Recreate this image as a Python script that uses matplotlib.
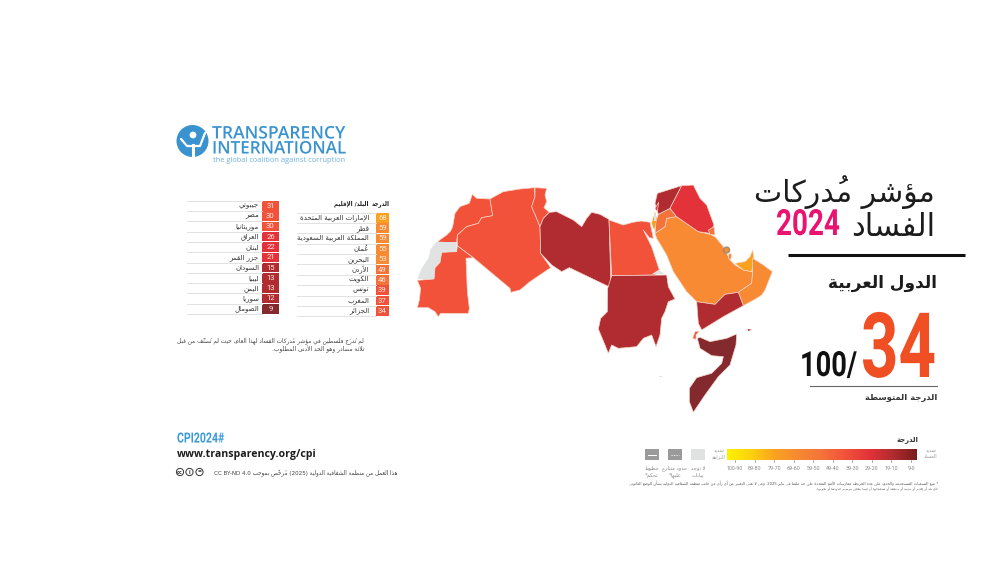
import re
import numpy as np
import matplotlib
matplotlib.use("Agg")
import matplotlib.pyplot as plt
from matplotlib.patches import Polygon, Circle, Rectangle
from matplotlib.colors import LinearSegmentedColormap
from matplotlib.patheffects import AbstractPathEffect
from matplotlib.transforms import Affine2D, Bbox

# ---------- data ----------
countries_right = ["الإمارات العربية المتحدة", "قطر", "المملكة العربية السعودية", "عُمان", "البحرين",
                   "الأردن", "الكويت", "تونس", "المغرب", "الجزائر"]
scores_right = [68, 59, 59, 55, 53, 49, 46, 39, 37, 34]
countries_left = ["جيبوتي", "مصر", "موريتانيا", "العراق", "لبنان", "جزر القمر", "السودان", "ليبيا",
                  "اليمن", "سوريا", "الصومال"]
scores_left = [31, 30, 30, 26, 22, 21, 15, 13, 13, 12, 9]
legend_ranges = ["100-90", "89-80", "79-70", "69-60", "59-50", "49-40", "39-30", "29-20", "19-10", "9-0"]
band_floor = [60, 50, 40, 30, 20, 10, 0]
band_color = ["#FAA21F", "#F78A32", "#F4733A", "#F15239", "#E3323A", "#B02C30", "#84292D"]
gradient_colors = ["#FFF200", "#FDD20E", "#FAA21F", "#F78A32", "#F4733A", "#F15239", "#E3323A", "#B02C30", "#7A1C1C"]
regional_average = 34

# outlines
regions = {
 "المغرب": [(85,198),(110,180),(122,168),(128,155),(135,115),(150,95),(178,85),(187,58),(200,70),(240,72),(248,122),(215,128),(205,145),(170,155),(142,180),(140,202),(85,202)],
 "موريتانيا": [(140,230),(95,232),(90,262),(75,278),(72,312),(22,316),(32,340),(28,375),(22,398),(55,398),(75,410),(85,425),(92,415),(175,415),(178,400),(172,350),(168,250),(190,248),(142,212)],
 "الجزائر": [(240,72),(280,50),(330,42),(373,38),(375,65),(365,95),(380,130),(390,155),(392,235),(422,278),(360,320),(330,345),(303,352),(300,340),(190,248),(142,212),(142,180),(170,155),(205,145),(215,128),(248,122)],
 "تونس": [(375,38),(410,40),(405,60),(410,80),(402,98),(418,112),(400,130),(390,155),(380,130),(365,95),(375,65)],
 "ليبيا": [(418,112),(440,110),(470,125),(490,135),(515,155),(530,130),(545,112),(570,118),(597,133),(603,338),(478,278),(455,290),(425,270),(392,235),(390,155),(400,130)],
 "مصر": [(597,135),(640,150),(668,142),(695,138),(720,142),(730,190),(718,188),(700,165),(725,215),(748,285),(735,300),(605,302)],
 "السودان": [(605,302),(770,300),(775,335),(795,372),(775,380),(765,410),(755,430),(750,480),(738,515),(725,480),(700,490),(680,515),(625,520),(605,510),(595,535),(585,510),(565,462),(572,430),(592,410),(593,340)],
 "المملكة العربية السعودية": [(735,175),(765,155),(770,130),(800,125),(865,170),(900,178),(915,185),(940,215),(960,255),(975,270),(1000,285),(1028,290),(1025,325),(985,352),(945,358),(915,388),(860,380),(830,350),(790,290),(770,240),(740,190)],
 "الأردن": [(745,118),(780,100),(800,125),(770,130),(765,155),(735,175),(738,140)],
 "سوريا": [(742,55),(815,32),(780,100),(745,118),(735,85)],
 "العراق": [(815,32),(850,30),(870,70),(890,90),(912,150),(900,175),(865,170),(800,125),(780,100)],
 "لبنان": [(735,100),(746,82),(742,110)],
 "الكويت": [(895,165),(912,155),(915,180),(900,178)],
 "قطر": [(957,235),(965,238),(962,255),(955,250)],
 "الإمارات العربية المتحدة": [(975,265),(1005,260),(1020,245),(1028,225),(1032,250),(1025,290),(1000,285)],
 "عُمان": [(1028,250),(1060,270),(1087,290),(1065,345),(1055,360),(1040,370),(1000,392),(985,352),(1025,325),(1028,290)],
 "اليمن": [(860,380),(915,388),(945,358),(985,352),(1000,392),(940,425),(875,465),(865,445)],
 "جيبوتي": [(848,490),(855,470),(868,468),(858,480),(858,493)],
 "الصومال": [(862,490),(870,487),(900,500),(950,490),(980,477),(978,510),(960,570),(925,605),(885,660),(850,712),(838,680),(838,640),(860,608),(905,595),(935,565),(940,545),(905,542),(870,520)],
}
socotra = [(1012,462),(1025,464),(1015,468)]
comoros = [(746,602),(757,602),(757,606),(746,606)]
israel = [(725,145),(735,110),(740,130),(733,165)]
west_bank = [(731,118),(738,118),(738,138),(731,138)]
no_data = {
 "sahara": [(140,202),(140,230),(95,232),(90,262),(75,278),(72,312),(22,312),(35,280),(55,250),(62,222),(80,200)],
 "halayeb": [(725,298),(745,285),(765,297)],
}

# ---------- Arabic shaping (matplotlib has no shaping or bidi) ----------
F = {'ء':(0xFE80,),'آ':(0xFE81,0xFE82),'أ':(0xFE83,0xFE84),'ؤ':(0xFE85,0xFE86),'إ':(0xFE87,0xFE88),
     'ئ':(0xFE89,0xFE8A,0xFE8B,0xFE8C),'ا':(0xFE8D,0xFE8E),'ب':(0xFE8F,0xFE90,0xFE91,0xFE92),'ة':(0xFE93,0xFE94),
     'ت':(0xFE95,0xFE96,0xFE97,0xFE98),'ث':(0xFE99,0xFE9A,0xFE9B,0xFE9C),'ج':(0xFE9D,0xFE9E,0xFE9F,0xFEA0),
     'ح':(0xFEA1,0xFEA2,0xFEA3,0xFEA4),'خ':(0xFEA5,0xFEA6,0xFEA7,0xFEA8),'د':(0xFEA9,0xFEAA),'ذ':(0xFEAB,0xFEAC),
     'ر':(0xFEAD,0xFEAE),'ز':(0xFEAF,0xFEB0),'س':(0xFEB1,0xFEB2,0xFEB3,0xFEB4),'ش':(0xFEB5,0xFEB6,0xFEB7,0xFEB8),
     'ص':(0xFEB9,0xFEBA,0xFEBB,0xFEBC),'ض':(0xFEBD,0xFEBE,0xFEBF,0xFEC0),'ط':(0xFEC1,0xFEC2,0xFEC3,0xFEC4),
     'ظ':(0xFEC5,0xFEC6,0xFEC7,0xFEC8),'ع':(0xFEC9,0xFECA,0xFECB,0xFECC),'غ':(0xFECD,0xFECE,0xFECF,0xFED0),
     'ف':(0xFED1,0xFED2,0xFED3,0xFED4),'ق':(0xFED5,0xFED6,0xFED7,0xFED8),'ك':(0xFED9,0xFEDA,0xFEDB,0xFEDC),
     'ل':(0xFEDD,0xFEDE,0xFEDF,0xFEE0),'م':(0xFEE1,0xFEE2,0xFEE3,0xFEE4),'ن':(0xFEE5,0xFEE6,0xFEE7,0xFEE8),
     'ه':(0xFEE9,0xFEEA,0xFEEB,0xFEEC),'و':(0xFEED,0xFEEE),'ى':(0xFEEF,0xFEF0),'ي':(0xFEF1,0xFEF2,0xFEF3,0xFEF4)}
LA = {'آ':(0xFEF5,0xFEF6),'أ':(0xFEF7,0xFEF8),'إ':(0xFEF9,0xFEFA),'ا':(0xFEFB,0xFEFC)}
MARK = set('\u064B\u064C\u064D\u064E\u064F\u0650\u0651\u0652')
MIRROR = {'(':')',')':'('}

def shape(s):
    cl = []
    for ch in s:
        if ch in MARK and cl:
            cl[-1][1] += ch
        else:
            cl.append([ch, ''])
    out = []
    i = 0
    prev_joins = False
    while i < len(cl):
        c, m = cl[i]
        if c not in F:
            out.append((c, m)); prev_joins = False; i += 1; continue
        if c == 'ل' and i + 1 < len(cl) and cl[i+1][0] in LA:
            g = LA[cl[i+1][0]][1 if prev_joins else 0]
            out.append((chr(g), m + cl[i+1][1])); prev_joins = False; i += 2; continue
        forms = F[c]
        next_ok = i + 1 < len(cl) and cl[i+1][0] in F
        can_next = len(forms) == 4 and next_ok
        if prev_joins and can_next: g = forms[3]
        elif prev_joins and len(forms) > 1: g = forms[1]
        elif can_next: g = forms[2]
        else: g = forms[0]
        out.append((chr(g), m))
        prev_joins = can_next
        i += 1
    return out

def ar(s):
    """logical Arabic text -> visual order presentation forms"""
    parts = re.split(r'([0-9A-Za-z](?:[0-9A-Za-z .\-/]*[0-9A-Za-z])?)', s)
    res = []
    for k, p in enumerate(parts):
        if k % 2:
            res.append(p)
        else:
            res.append(''.join(m + MIRROR.get(c, c) for c, m in reversed(shape(p))))
    return ''.join(reversed(res))

# ---------- helpers ----------
cmap = LinearSegmentedColormap.from_list("cpi", gradient_colors)
def score_color(v):
    for lo, col in zip(band_floor, band_color):
        if v >= lo:
            return col
    return band_color[-1]

fig = plt.figure(figsize=(10, 5.64), dpi=100, facecolor="white")
ax = fig.add_axes([0, 0, 1, 1])
ax.set_xlim(0, 1000); ax.set_ylim(564, 0); ax.axis("off")
AR = "DejaVu Sans"
COND = "Roboto"
renderer = fig.canvas.get_renderer()

class Squeeze(AbstractPathEffect):
    """draws a text narrower about its anchor, as the condensed face of the reference"""
    def __init__(self, sx, x0):
        super().__init__()
        self.sx, self.x0 = sx, x0
    def draw_path(self, rend, gc, tpath, affine, rgbFace=None):
        t = Affine2D().translate(-self.x0, 0).scale(self.sx, 1).translate(self.x0, 0)
        rend.draw_path(gc, tpath, affine + t, rgbFace)

def txt(x, y, s, size=6, width=None, color="#222222", ha="right", va="center", weight="normal",
        family=AR, squeeze=False, **kw):
    t = ax.text(x, y, s, fontsize=size, color=color, ha=ha, va=va, fontweight=weight, family=family, **kw)
    if width:
        bb = t.get_window_extent(renderer)
        if squeeze:
            sx = width / bb.width
            t.set_path_effects([Squeeze(sx, x)])
            x0 = x - width if ha == "right" else x
            fixed = Bbox.from_extents(x0, bb.y0, x0 + width, bb.y1)
            t.get_window_extent = lambda renderer=None, dpi=None: fixed
        else:
            t.set_fontsize(size * width / bb.width)
    return t

def to_px(pts):
    return [(410 + x / 3, 175 + y / 3) for x, y in pts]

# ---------- logo ----------
LOGO = "#3A93CF"
ax.add_patch(Circle((192.5, 141), 16, fc=LOGO, ec="none"))
ax.add_patch(Circle((193, 135), 3.4, fc="white", ec="none"))
ax.plot([181, 187, 200, 205], [139, 146, 146, 133], color="white", lw=1.6, solid_capstyle="round")
ax.plot([193, 193], [145, 156], color="white", lw=2.2)
txt(212, 134.5, "TRANSPARENCY", 12.5, width=133, color=LOGO, ha="left", weight="semibold", family="Open Sans", squeeze=True)
txt(212, 149.5, "INTERNATIONAL", 12.5, width=134, color=LOGO, ha="left", weight="semibold", family="Open Sans", squeeze=True)
txt(213, 161, "the global coalition against corruption", 6, width=134, color="#6FB1DE", ha="left", family="Open Sans")

# ---------- tables ----------
def table(names, vals, top, step, x0, xc0, xc1, xtext, fs=5.0):
    for i, (n, v) in enumerate(zip(names, vals)):
        y = top + i * step
        ax.add_patch(Rectangle((xc0, y), xc1 - xc0, step - 0.8, fc=score_color(v), ec="none"))
        ax.plot([x0, xc0 - 0.5], [y + step - 0.3] * 2, color="#E2E2E2", lw=0.7)
        txt(xtext, y + step / 2 - 0.4, ar(n), fs, color="#333333")
        txt((xc0 + xc1) / 2, y + step / 2 - 0.4, str(v), 5.6, color="#FBE9DF", ha="center", family="Roboto")
    ax.plot([x0, xc0 - 0.5], [top - 0.3] * 2, color="#E2E2E2", lw=0.7)

table(countries_right, scores_right, 213, 10.35, 297, 376, 389, 369)
table(countries_left, scores_left, 201, 10.3, 187, 262, 279, 259)
txt(390, 203.5, ar("الدرجة"), 5.2, width=18, weight="bold", color="#222222")
txt(368, 203.5, ar("البلد/ الإقليم"), 5.2, width=35, weight="bold", color="#222222")
txt(364, 341.5, ar("لم تُدرَج فلسطين في مؤشر مُدركات الفساد لهذا العام، حيث لم تُصنَّف من قبل"), 4.6, width=187, color="#444444")
txt(364, 349, ar("ثلاثة مصادر وهو الحد الأدنى المطلوب."), 4.6, width=91, color="#444444")

# ---------- map ----------
lookup = dict(zip(countries_right + countries_left, scores_right + scores_left))
for name, pts in regions.items():
    ax.add_patch(Polygon(to_px(pts), closed=True, fc=score_color(lookup[name]), ec="#F6D5C8", lw=0.5, joinstyle="round"))
for pts in no_data.values():
    ax.add_patch(Polygon(to_px(pts), closed=True, fc="#E1E2E2", ec="none"))
ax.add_patch(Polygon(to_px(socotra), closed=True, fc=score_color(lookup["اليمن"]), ec="none"))
ax.add_patch(Polygon(to_px(comoros), closed=True, fc="#E8DED8", ec="none"))
ax.add_patch(Polygon(to_px(israel), closed=True, fc=band_color[0], ec="none"))
ax.add_patch(Polygon(to_px(west_bank), closed=True, fc="#E1E2E2", ec="none"))
bx, by = to_px([(950, 225)])[0]
ax.add_patch(Circle((bx, by), 3, fc=score_color(lookup["البحرين"]), ec="#8A8A80", lw=0.8))

# ---------- title block ----------
txt(935, 192, ar("مؤشر مُدركات"), 26, width=181, color="#1C1C1C")
txt(935, 227, ar("الفساد"), 26, width=84, color="#1C1C1C")
txt(840, 225, "2024", 26, width=64, color="#E8146F", weight="bold", family=COND, squeeze=True)
ax.plot([788, 965], [255, 255], color="#111111", lw=2.2, solid_capstyle="butt")
txt(937, 283, ar("الدول العربية"), 14, width=109, color="#1C1C1C", weight="bold")
txt(861, 377, str(regional_average), 65, width=75, color="#F04E23", weight="bold", family=COND, va="baseline", ha="left", squeeze=True)
txt(857, 376, "100/", 25, width=57, color="#111111", weight="bold", family=COND, va="baseline", squeeze=True)
ax.plot([810, 937], [386, 386], color="#666666", lw=0.8)
txt(937, 398, ar("الدرجة المتوسطة"), 6, width=72, color="#333333", weight="bold")

# ---------- legend ----------
txt(918, 440, ar("الدرجة"), 6, width=22, color="#333333", weight="bold")
ax.imshow(np.linspace(0, 1, 256)[None, :], extent=(727, 917, 460, 449), cmap=cmap, aspect="auto", zorder=2)
ax.set_xlim(0, 1000); ax.set_ylim(564, 0)
label_x = np.linspace(735, 911, len(legend_ranges))
for lx, lab in zip(label_x, legend_ranges):
    ax.plot([lx, lx], [460, 461.5], color="#888888", lw=0.5)
    txt(lx, 468, lab, 3.9, color="#8A8A8A", ha="center", family="Roboto")
txt(725, 451, ar("شديد"), 3.6, color="#999999", ha="right")
txt(725, 457, ar("النزاهة"), 3.6, color="#999999", ha="right")
txt(937, 451, ar("شديد"), 3.6, color="#999999")
txt(937, 457, ar("الفساد"), 3.6, color="#999999")
ax.add_patch(Rectangle((691, 449), 14, 11, fc="#E0E1E1", ec="none"))
ax.add_patch(Rectangle((668, 449), 14, 11, fc="#9A9A9A", ec="none"))
ax.plot([671, 679], [454.5, 454.5], color="white", lw=0.6, ls=(0, (1.5, 1.5)))
ax.add_patch(Rectangle((645, 449), 14, 11, fc="#9A9A9A", ec="none"))
ax.plot([648, 656], [454.5, 454.5], color="white", lw=0.7)
for cx, l1, l2 in [(698, "لا توجد", "بيانات"), (675, "حدود متنازع", "عليها*"), (652, "خطوط", "تحكم*")]:
    txt(cx, 468, ar(l1), 3.7, color="#888888", ha="center")
    txt(cx, 475, ar(l2), 3.7, color="#888888", ha="center")
txt(938, 483.5, ar("* تتبع التسميات المستخدمة والحدود على هذه الخريطة ممارسات الأمم المتحدة على حد علمنا في يناير 2025. وهي لا تعني التعبير عن أي رأي من جانب منظمة الشفافية الدولية بشأن الوضع القانوني"), 3, width=302, color="#555555")
txt(938, 488.5, ar("لأي بلد أو إقليم أو مدينة أو منطقة أو لسلطاتها أو فيما يتعلق بترسيم حدودها أو تخومها."), 3, width=116, color="#555555")

# ---------- footer ----------
txt(177, 438.5, "CPI2024#", 10, width=47, color="#3A9AD9", ha="left", weight="bold", family=COND, squeeze=True)
txt(177, 455, "www.transparency.org/cpi", 10, width=138, color="#1C1C1C", ha="left", weight="bold", family="Open Sans")
for cx, sym in [(180, "cc"), (189.5, "i"), (199.5, "=")]:
    ax.add_patch(Circle((cx, 472), 3.6, fc="white", ec="#333333", lw=0.7))
    txt(cx, 472, sym, 3.4, color="#333333", ha="center", weight="bold")
txt(397, 473, ar("هذا العمل من منظمة الشفافية الدولية (2025) مُرخّص بموجب CC BY-ND 4.0"), 4.4, width=188, color="#444444")

fig.savefig("out.png", dpi=100, facecolor="white")
